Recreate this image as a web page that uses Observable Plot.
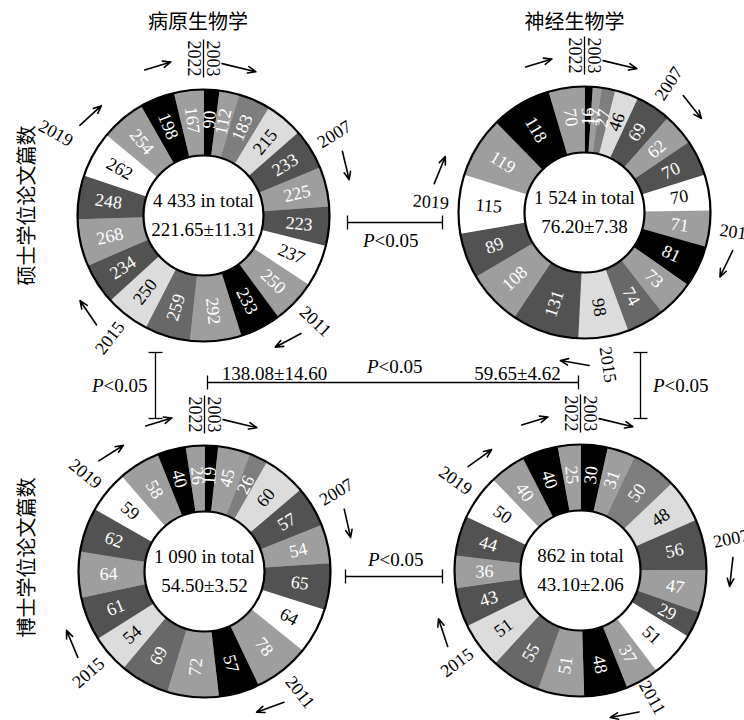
<!DOCTYPE html>
<html><head><meta charset="utf-8">
<script src="https://cdn.jsdelivr.net/npm/d3@7"></script>
<script src="https://cdn.jsdelivr.net/npm/@observablehq/plot@0.6"></script>
<style>body{margin:0;background:#fff}#chart{width:744px;height:720px;overflow:hidden}</style>
</head><body><div id="chart"></div>
<script>
// ---------- data ----------
const years = [2003,2004,2005,2006,2007,2008,2009,2010,2011,2012,2013,2014,2015,2016,2017,2018,2019,2020,2021,2022];
const masterPathogen = [90,112,183,215,233,225,223,237,250,233,292,259,250,234,268,248,262,254,198,167];
const masterNeuro    = [16,17,27,46,69,62,70,70,71,81,73,74,98,131,108,89,115,119,118,70];
const doctorPathogen = [19,45,26,60,57,54,65,64,78,57,72,69,54,61,64,62,59,58,40,26];
const doctorNeuro    = [30,31,50,48,56,47,29,51,37,48,51,55,51,43,36,44,50,40,40,25];
const subjects = ["病原生物学","神经生物学"];
const degreeLabels = ["硕士学位论文篇数","博士学位论文篇数"];
const donutMeans = [221.65, 76.20, 54.50, 43.10];
const donutSEs   = [11.31, 7.38, 3.52, 2.06];
const subjectMeans = [138.08, 59.65];
const subjectSEs   = [14.60, 4.62];
const markerYears = [2007, 2011, 2015, 2019];
const pValue = "<0.05";

// ---------- styling / layout ----------
const shades = ["#000000","#9e9e9e","#7e7e7e","#dcdcdc","#525252","#9e9e9e","#525252","#ffffff","#9e9e9e","#000000",
                "#9e9e9e","#686868","#dcdcdc","#525252","#9e9e9e","#525252","#ffffff","#9e9e9e","#000000","#9e9e9e"];
const lightYears = years.filter((y,i) => shades[i] === "#dcdcdc" || shades[i] === "#ffffff");
const W = 744, H = 720;
const R_OUT = 126, R_IN = 60, R_LAB = 96, R_YEAR = 154;
const centers = [[203,215],[584,212],[204,571],[580,570]];
const seriesList = [masterPathogen, masterNeuro, doctorPathogen, doctorNeuro];
const donuts = seriesList.map((values,k) => ({values, cx: centers[k][0], cy: centers[k][1], mean: donutMeans[k], se: donutSEs[k]}));

const rad = d => d * Math.PI / 180;
const pt = (c, ang, r) => ({x: c.cx + r * Math.sin(rad(ang)), y: c.cy - r * Math.cos(rad(ang))});
const norm = r => { r = ((r % 180) + 180) % 180; return r > 90 ? r - 180 : r; };
const fmt = d3.formatLocale({decimal: ".", thousands: " ", grouping: [3], currency: ["",""]}).format(",");

const wedgePts = [], valueLabels = [], yearLabels = [], arrows = [], startLines = [], centerTexts = [];
donuts.forEach((c,k) => {
  const arcs = d3.pie().sort(null).value(d => d)(c.values);
  arcs.forEach((p,i) => {
    const a0 = p.startAngle * 180 / Math.PI, a1 = p.endAngle * 180 / Math.PI;
    const n = Math.max(2, Math.ceil((a1 - a0) / 0.5));
    const key = k + "-" + i;
    for (let j = 0; j <= n; j++) wedgePts.push({key, year: years[i], ...pt(c, a0 + (a1 - a0) * j / n, R_OUT)});
    for (let j = n; j >= 0; j--) wedgePts.push({key, year: years[i], ...pt(c, a0 + (a1 - a0) * j / n, R_IN)});
    const am = (a0 + a1) / 2;
    valueLabels.push({...pt(c, am, R_LAB), text: String(c.values[i]), rot: norm(am - 90), light: lightYears.includes(years[i])});
    if (markerYears.includes(years[i])) {
      let rr = years[i] === 2019 && k === 0 ? R_YEAR + 15 : R_YEAR;
      if (pt(c, am, rr).y > H - 22) rr -= 8;
      yearLabels.push({...pt(c, am, rr), text: String(years[i]), rot: norm(am - 90)});
      const s = pt(c, am + 7, 153), e = pt(c, am + 18, 150);
      arrows.push({x1: s.x, y1: s.y, x2: e.x, y2: e.y});
    }
  });
  // first / last year marker at 12 o'clock
  const top1 = pt(c, 0, 138), top2 = pt(c, 0, 176);
  startLines.push({x1: top1.x, y1: top1.y, x2: top2.x, y2: top2.y});
  const mid = pt(c, 0, 157);
  yearLabels.push({x: mid.x - 9.5, y: mid.y, text: String(years[years.length - 1]), rot: 90});
  yearLabels.push({x: mid.x + 9.5, y: mid.y, text: String(years[0]), rot: 90});
  let s = pt(c, -22, 157), e = pt(c, -12, 157);
  arrows.push({x1: s.x, y1: s.y, x2: e.x, y2: e.y});
  s = pt(c, 7, 153); e = pt(c, 20, 153);
  arrows.push({x1: s.x, y1: s.y, x2: e.x, y2: e.y});
  centerTexts.push({x: c.cx, y: c.cy - 15, text: `${fmt(d3.sum(c.values))} in total`});
  centerTexts.push({x: c.cx, y: c.cy + 14, text: `${c.mean.toFixed(2)}±${c.se.toFixed(2)}`});
});

// significance brackets (layout)
const [TL, TR, BL, BR] = donuts;
const links = [];
const pTexts = [];
function hBracket(x1, x2, y, tick) {
  links.push({x1, y1: y, x2, y2: y});
  links.push({x1, y1: y - tick, x2: x1, y2: y + tick});
  links.push({x1: x2, y1: y - tick, x2, y2: y + tick});
}
function vBracket(x, y1, y2, tick) {
  links.push({x1: x, y1, x2: x, y2});
  links.push({x1: x - tick, y1, x2: x + tick, y2: y1});
  links.push({x1: x - tick, y1: y2, x2: x + tick, y2: y2});
}
hBracket(TL.cx + 144, TR.cx - 142, 222, 7);  pTexts.push({x: 390, y: 240});
hBracket(BL.cx + 141, BR.cx - 138, 576, 7);  pTexts.push({x: 395, y: 559});
vBracket(BL.cx - 49, 352, 418, 7);           pTexts.push({x: 119, y: 385});
vBracket(BR.cx + 60, 352, 418, 7);           pTexts.push({x: 680, y: 385});
hBracket(BL.cx + 3, BR.cx - 2, 382, 7);      pTexts.push({x: 394, y: 366});
const subjectTexts = [
  {x: 274, y: 373, text: `${subjectMeans[0].toFixed(2)}±${subjectSEs[0].toFixed(2)}`},
  {x: 517, y: 373, text: `${subjectMeans[1].toFixed(2)}±${subjectSEs[1].toFixed(2)}`}
];
const titles = [
  {x: (TL.cx + BL.cx) / 2 - 6, y: 22, text: subjects[0]},
  {x: (TR.cx + BR.cx) / 2 - 8, y: 22, text: subjects[1]}
];
const rowLabels = [
  {x: 27, y: 205, text: degreeLabels[0]},
  {x: 27, y: 557, text: degreeLabels[1]}
];

const serif = "'Liberation Serif', 'Times New Roman', serif";
const cjk = "'Noto Sans CJK SC', sans-serif";

const chart = Plot.plot({
  width: W, height: H, margin: 0,
  x: {domain: [0, W], range: [0, W], axis: null},
  y: {domain: [0, H], range: [0, H], axis: null},
  color: {type: "ordinal", domain: years, range: shades},
  style: {fontFamily: serif, fontSize: "16px", background: "#fff", color: "#000"},
  marks: [
    Plot.line(wedgePts, {x: "x", y: "y", z: "key", fill: "year", stroke: "year", strokeWidth: 0.6, curve: "linear"}),
    Plot.dot(donuts, {x: "cx", y: "cy", r: R_OUT, fill: "none", stroke: "#000", strokeWidth: 2.2}),
    Plot.dot(donuts, {x: "cx", y: "cy", r: R_IN, fill: "#fff", stroke: "#000", strokeWidth: 2.2}),
    Plot.text(valueLabels.filter(d => !d.light), {x: "x", y: "y", text: "text", rotate: "rot", fill: "#fff", fontSize: 18}),
    Plot.text(valueLabels.filter(d => d.light), {x: "x", y: "y", text: "text", rotate: "rot", fill: "#000", fontSize: 18}),
    Plot.text(centerTexts, {x: "x", y: "y", text: "text", fontSize: 19, fill: "#000"}),
    Plot.link(startLines, {x1: "x1", y1: "y1", x2: "x2", y2: "y2", stroke: "#000", strokeWidth: 1.3}),
    Plot.text(yearLabels, {x: "x", y: "y", text: "text", rotate: "rot", fontSize: 18, fill: "#000"}),
    Plot.arrow(arrows, {x1: "x1", y1: "y1", x2: "x2", y2: "y2", stroke: "#000", strokeWidth: 1.6, headLength: 8, headAngle: 45}),
    Plot.link(links, {x1: "x1", y1: "y1", x2: "x2", y2: "y2", stroke: "#000", strokeWidth: 1.3}),
    Plot.text(pTexts, {x: d => d.x - 16, y: "y", text: () => "P", fontStyle: "italic", textAnchor: "end", fontSize: 19, fill: "#000"}),
    Plot.text(pTexts, {x: d => d.x - 16, y: "y", text: () => pValue, textAnchor: "start", fontSize: 19, fill: "#000"}),
    Plot.text(subjectTexts, {x: "x", y: "y", text: "text", fontSize: 19, fill: "#000"}),
    Plot.text(titles, {x: "x", y: "y", text: "text", fontFamily: cjk, fontSize: 20, fill: "#000"}),
    Plot.text(rowLabels, {x: "x", y: "y", text: "text", rotate: -90, fontFamily: cjk, fontSize: 20, fill: "#000"})
  ]
});
document.getElementById("chart").appendChild(chart);
</script>
</body></html>
